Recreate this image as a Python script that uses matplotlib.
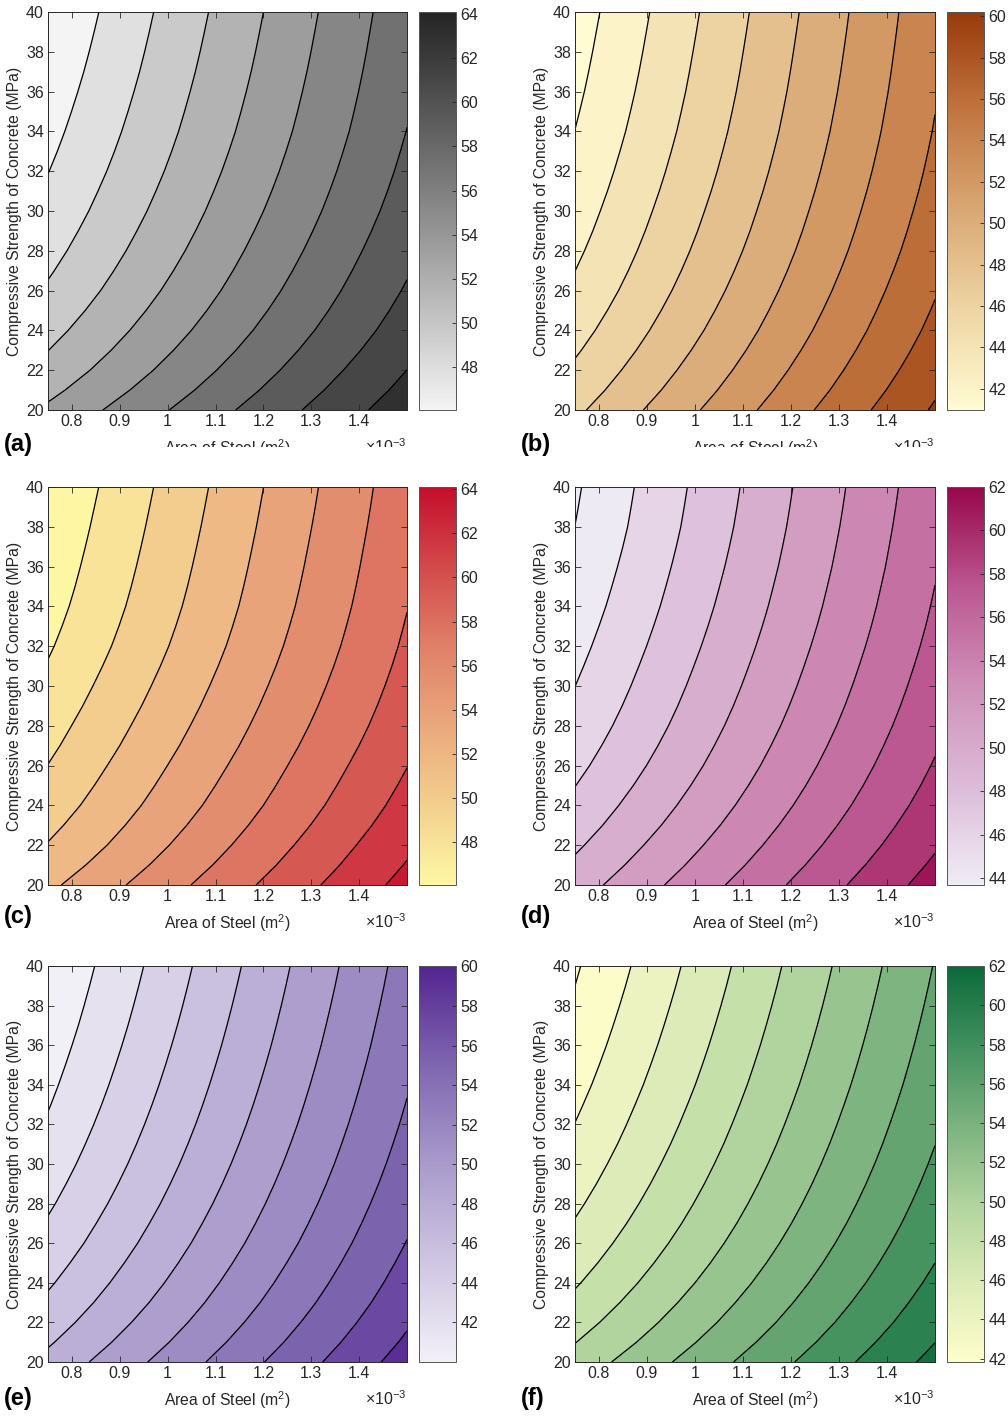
#!/usr/bin/env python3
"""
Contour maps of a section response vs. area of steel and concrete strength.

Six panels share the same grid; only the values and colour maps change.
"""

import matplotlib
matplotlib.use("Agg")
import numpy as np
import matplotlib.pyplot as plt
from matplotlib.colors import LinearSegmentedColormap, Normalize
from matplotlib.cm import ScalarMappable
from matplotlib.patches import Rectangle

plt.rcParams['font.family'] = ['Liberation Sans', 'DejaVu Sans']
plt.rcParams['mathtext.fontset'] = 'custom'
plt.rcParams['mathtext.rm'] = 'Liberation Sans'
plt.rcParams['mathtext.it'] = 'Liberation Sans:italic'
plt.rcParams['mathtext.bf'] = 'Liberation Sans:bold'

# --- data ----------------------------------------------------------------
# x: area of steel (x1e-3 m^2) at the two plot edges, y: f'c (MPa)
AS_EDGES = [0.75, 1.5]
FC_VALUES = [20, 21, 22, 23, 24, 25, 26, 27, 28, 29, 30,
             31, 32, 33, 34, 35, 36, 37, 38, 39, 40]

# value along the left edge (As = 0.75e-3) and right edge (As = 1.5e-3)
a_left = [53.83, 53.00, 52.24, 51.58, 50.98, 50.44, 49.94, 49.50, 49.09, 48.72, 48.37,
          48.06, 47.76, 47.49, 47.24, 47.01, 46.79, 46.58, 46.39, 46.21, 46.04]
a_right = [64.10, 63.53, 63.01, 62.51, 62.05, 61.65, 61.28, 60.95, 60.64, 60.35, 60.08,
           59.84, 59.62, 59.42, 59.23, 59.08, 58.94, 58.81, 58.69, 58.58, 58.47]
a_levels = [47.8, 49.7, 51.6, 53.5, 55.4, 57.3, 59.2, 61.1, 63.0]
a_range = (46.04, 64.1)
a_ticks = [48, 50, 52, 54, 56, 58, 60, 62, 64]

b_left = [47.60, 46.93, 46.33, 45.77, 45.26, 44.80, 44.37, 43.99, 43.64, 43.32, 43.03,
          42.75, 42.49, 42.25, 42.02, 41.82, 41.63, 41.46, 41.30, 41.15, 41.00]
b_right = [60.24, 59.74, 59.29, 58.88, 58.50, 58.17, 57.86, 57.57, 57.30, 57.06, 56.84,
           56.63, 56.44, 56.27, 56.11, 55.98, 55.85, 55.74, 55.64, 55.54, 55.45]
b_levels = [42, 44, 46, 48, 50, 52, 54, 56, 58, 60]
b_range = (40.97, 60.2)
b_ticks = [42, 44, 46, 48, 50, 52, 54, 56, 58, 60]

c_left = [53.30, 52.54, 51.85, 51.26, 50.72, 50.26, 49.83, 49.41, 49.03, 48.65, 48.30,
          47.96, 47.64, 47.37, 47.12, 46.91, 46.72, 46.54, 46.37, 46.21, 46.05]
c_right = [64.10, 63.58, 63.10, 62.62, 62.19, 61.82, 61.47, 61.13, 60.82, 60.55, 60.30,
           60.07, 59.86, 59.68, 59.51, 59.37, 59.24, 59.12, 59.00, 58.89, 58.79]
c_levels = [47.85, 49.80, 51.75, 53.70, 55.65, 57.60, 59.56, 61.51, 63.46]
c_range = (46.05, 64.1)
c_ticks = [48, 50, 52, 54, 56, 58, 60, 62, 64]

d_left = [50.70, 50.01, 49.38, 48.78, 48.24, 47.74, 47.28, 46.87, 46.49, 46.15, 45.84,
          45.55, 45.27, 45.01, 44.76, 44.54, 44.33, 44.13, 43.95, 43.82, 43.70]
d_right = [62.00, 61.46, 60.96, 60.51, 60.09, 59.72, 59.38, 59.07, 58.78, 58.52, 58.28,
           58.06, 57.85, 57.66, 57.49, 57.34, 57.19, 57.07, 56.95, 56.84, 56.74]
d_levels = [43.94, 45.85, 47.77, 49.68, 51.59, 53.51, 55.42, 57.33, 59.24, 61.16]
d_range = (43.7, 62.0)
d_ticks = [44, 46, 48, 50, 52, 54, 56, 58, 60, 62]

e_left = [48.18, 47.40, 46.69, 46.04, 45.45, 44.91, 44.40, 43.94, 43.50, 43.10, 42.72,
          42.37, 42.04, 41.73, 41.44, 41.17, 40.91, 40.66, 40.43, 40.21, 40.00]
e_right = [60.02, 59.46, 58.95, 58.48, 58.06, 57.67, 57.30, 56.97, 56.66, 56.37, 56.10,
           55.85, 55.61, 55.39, 55.18, 54.98, 54.79, 54.62, 54.45, 54.29, 54.14]
e_levels = [41.84, 43.77, 45.69, 47.62, 49.54, 51.47, 53.39, 55.32, 57.24, 59.17]
e_range = (40.0, 60.02)
e_ticks = [42, 44, 46, 48, 50, 52, 54, 56, 58, 60]

f_left = [50.58, 49.75, 48.99, 48.30, 47.66, 47.08, 46.54, 46.04, 45.58, 45.15, 44.75,
          44.37, 44.02, 43.69, 43.37, 43.08, 42.80, 42.54, 42.29, 42.05, 41.83]
f_right = [62.00, 61.40, 60.85, 60.36, 59.90, 59.48, 59.09, 58.73, 58.40, 58.09, 57.80,
           57.53, 57.28, 57.04, 56.81, 56.60, 56.40, 56.21, 56.03, 55.86, 55.70]
f_levels = [42.05, 43.99, 45.92, 47.86, 49.80, 51.74, 53.67, 55.61, 57.55, 59.48, 61.42]
f_range = (41.83, 62.0)
f_ticks = [42, 44, 46, 48, 50, 52, 54, 56, 58, 60, 62]

X_TICKS = [0.8, 0.9, 1.0, 1.1, 1.2, 1.3, 1.4]
X_TICK_LABELS = ['0.8', '0.9', '1', '1.1', '1.2', '1.3', '1.4']
Y_TICKS = [20, 22, 24, 26, 28, 30, 32, 34, 36, 38, 40]

# colour maps (light -> dark)
CMAPS = {
    'a': ['#f4f4f4', '#8a8a8a', '#242424'],
    'b': ['#fffbd2', '#eed5a4', '#d9a874', '#c27640', '#983a0a'],
    'c': ['#fdf7a4', '#f3cf8e', '#eaa87c', '#df8068', '#d34a4b', '#c40e2b'],
    'd': ['#efecf5', '#dcbbd8', '#cf90b8', '#bb5791', '#98074b'],
    'e': ['#f2f0f7', '#cfc6e2', '#a99acc', '#7f67b0', '#532590'],
    'f': ['#fdfdca', '#dcebb7', '#b0d49d', '#7bb27e', '#40905d', '#0b6a3a'],
}

W, H = 1008, 1416
INK = '#262626'
FS = 11.5


def px_rect(left, top, right, bottom):
    """Pixel box -> figure fraction rect."""
    return [left / W, 1 - bottom / H, (right - left) / W, (bottom - top) / H]


def draw_panel(fig, key, col, row, left, right, levels, vrange, cticks):
    """Draw one filled contour panel with its colour bar."""
    cols = [(48, 407, 419, 456), (575, 935, 947, 984)]
    rows = [(12, 410), (487, 885), (966, 1362)]
    ax_l, ax_r, cb_l, cb_r = cols[col]
    top, bot = rows[row]

    ax = fig.add_axes(px_rect(ax_l, top, ax_r, bot))
    cax = fig.add_axes(px_rect(cb_l, top, cb_r, bot))

    cmap = LinearSegmentedColormap.from_list('cm_' + key, CMAPS[key])
    norm = Normalize(vmin=vrange[0], vmax=vrange[1])

    Z = np.column_stack([left, right])
    fill_levels = [vrange[0] - 1] + list(levels) + [vrange[1] + 1]
    band_colors = [cmap(norm(v)) for v in [vrange[0]] + list(levels)]
    ax.contourf(AS_EDGES, FC_VALUES, Z, levels=fill_levels, colors=band_colors)
    ax.contour(AS_EDGES, FC_VALUES, Z, levels=levels, colors='k', linewidths=0.9)

    ax.set_xlim(0.75, 1.5)
    ax.set_ylim(20, 40)
    ax.set_xticks(X_TICKS)
    ax.set_xticklabels(X_TICK_LABELS)
    ax.set_yticks(Y_TICKS)
    ax.tick_params(direction='in', top=True, right=True, length=4, width=0.6,
                   color=INK, labelcolor=INK, labelsize=FS, pad=3)
    for sp in ax.spines.values():
        sp.set_linewidth(0.7)
        sp.set_color(INK)

    ax.set_xlabel('Area of Steel (m$^{2}$)', fontsize=11.3, color=INK, labelpad=6)
    ax.set_ylabel('Compressive Strength of Concrete (MPa)', fontsize=11.3,
                  color=INK, labelpad=3)
    ax.text(1.0, -0.092, r'$\times$10$^{-3}$', transform=ax.transAxes,
            ha='right', va='center', fontsize=FS, color=INK)

    cb = fig.colorbar(ScalarMappable(norm=norm, cmap=cmap), cax=cax)
    cb.set_ticks(cticks)
    cb.ax.tick_params(direction='in', length=3, width=0.6, color=INK,
                      labelcolor=INK, labelsize=FS, pad=3)
    cb.outline.set_linewidth(0.7)
    cb.outline.set_edgecolor('#555555')

    tag_x = 4 if col == 0 else 521
    tag_y = [445, 916, 1399][row]
    fig.text(tag_x / W, 1 - tag_y / H, '(%s)' % key, fontsize=17,
             fontweight='bold', va='center', ha='left', color='black')


def main():
    fig = plt.figure(figsize=(W / 100, H / 100), dpi=100)

    draw_panel(fig, 'a', 0, 0, a_left, a_right, a_levels, a_range, a_ticks)
    draw_panel(fig, 'b', 1, 0, b_left, b_right, b_levels, b_range, b_ticks)
    draw_panel(fig, 'c', 0, 1, c_left, c_right, c_levels, c_range, c_ticks)
    draw_panel(fig, 'd', 1, 1, d_left, d_right, d_levels, d_range, d_ticks)
    draw_panel(fig, 'e', 0, 2, e_left, e_right, e_levels, e_range, e_ticks)
    draw_panel(fig, 'f', 1, 2, f_left, f_right, f_levels, f_range, f_ticks)

    # the top row's axis titles are cropped in the source figure
    for x0, x1 in [(60, 505), (575, 1008)]:
        fig.add_artist(Rectangle((x0 / W, 1 - 474 / H), (x1 - x0) / W, 27 / H,
                                 transform=fig.transFigure, facecolor='white',
                                 edgecolor='none', zorder=10))

    fig.savefig('out.png', dpi=100)


if __name__ == "__main__":
    main()
